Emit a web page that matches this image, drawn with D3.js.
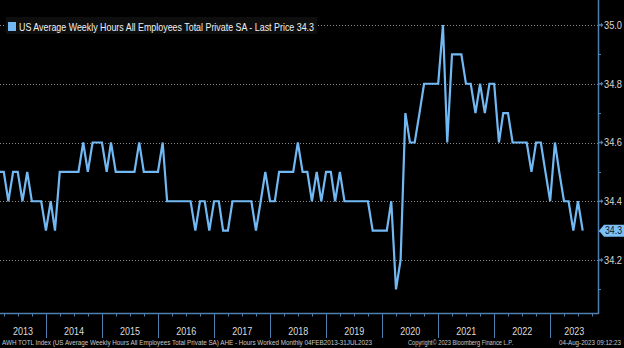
<!DOCTYPE html>
<html><head><meta charset="utf-8">
<script src="https://cdn.jsdelivr.net/npm/d3@7"></script>
<style>
html,body{margin:0;padding:0;background:#000;}
svg{display:block;}
</style></head>
<body>
<svg id="c" width="624" height="348"></svg>
<script>
// ---- data (monthly, month-end, Feb 2013 .. Jul 2023) ----
const startMonth = "2013-02";
const values = [
  34.5,34.5,34.4,34.5,34.5,34.4,34.5,34.4,34.4,34.4,34.3,
  34.4,34.3,34.5,34.5,34.5,34.5,34.5,34.6,34.5,34.6,34.6,34.6,
  34.5,34.6,34.5,34.5,34.5,34.5,34.5,34.6,34.5,34.5,34.5,34.5,
  34.6,34.4,34.4,34.4,34.4,34.4,34.4,34.3,34.4,34.4,34.3,34.4,
  34.4,34.3,34.3,34.4,34.4,34.4,34.4,34.4,34.3,34.4,34.5,34.4,
  34.4,34.5,34.5,34.5,34.5,34.6,34.5,34.5,34.4,34.5,34.4,34.5,
  34.5,34.4,34.5,34.4,34.4,34.4,34.4,34.4,34.4,34.3,34.3,34.3,
  34.3,34.4,34.1,34.2,34.7,34.6,34.6,34.7,34.8,34.8,34.8,34.8,
  35.0,34.6,34.9,34.9,34.9,34.8,34.8,34.7,34.8,34.7,34.8,34.8,
  34.6,34.7,34.7,34.6,34.6,34.6,34.6,34.5,34.6,34.6,34.5,34.4,
  34.6,34.5,34.4,34.4,34.3,34.4,34.3
];
const yMajorTicks = [34.2, 34.4, 34.6, 34.8, 35.0];
const yMinorTicks = [34.1, 34.3, 34.5, 34.7, 34.9];
const yearLabels = ["2013","2014","2015","2016","2017","2018","2019","2020","2021","2022","2023"];
const lastPrice = 34.3;
const legendText = "US Average Weekly Hours All Employees Total Private SA - Last Price 34.3";
const footerLeft = "AWH TOTL Index (US Average Weekly Hours All Employees Total Private SA) AHE - Hours Worked  Monthly 04FEB2013-31JUL2023";
const footerMid = "Copyright\u00A9 2023 Bloomberg Finance L.P.";
const footerRight = "04-Aug-2023 09:12:23";

// month-end dates
const parse = d3.timeParse("%Y-%m");
const first = parse(startMonth);
const dates = values.map((v,i) => d3.timeDay.offset(d3.timeMonth.offset(first, i+1), -1));
const data = values.map((v,i) => ({date: dates[i], value: v}));

const svg = d3.select("#c");
const W = 624, H = 348;
const plotRight = 598, plotBottom = 313;
const font = "'Liberation Sans', Arial, sans-serif";
const axisCol = "#4f7fae";
const lineCol = "#72b9f4";

svg.append("rect").attr("width", W).attr("height", H).attr("fill", "#000");

const x = d3.scaleTime()
  .domain([dates[0], dates[dates.length-1]])
  .range([-1, 582.7]);
const y = d3.scaleLinear().domain([34.2, 35.0]).range([260, 25]);

// clip
svg.append("clipPath").attr("id","clip").append("rect")
  .attr("x",0).attr("y",0).attr("width",plotRight).attr("height",plotBottom);

// gridlines
svg.append("g").selectAll("line").data(yMajorTicks).join("line")
  .attr("x1",0).attr("x2",plotRight)
  .attr("y1",d=>Math.round(y(d))+0.5).attr("y2",d=>Math.round(y(d))+0.5)
  .attr("stroke","#8a8a8a").attr("stroke-width",1).attr("stroke-dasharray","1,2");

// line
svg.append("path").datum(data)
  .attr("clip-path","url(#clip)")
  .attr("fill","none").attr("stroke",lineCol).attr("stroke-width",2.2)
  .attr("stroke-linejoin","miter")
  .attr("d", d3.line().x(d=>x(d.date)).y(d=>y(d.value)));

// legend
const lg = svg.append("g");
lg.append("rect").attr("x",6).attr("y",17).attr("width",311).attr("height",17).attr("fill","#0e0e0e");
lg.append("rect").attr("x",8).attr("y",22).attr("width",8).attr("height",9).attr("fill",lineCol);
lg.append("text").attr("x",19).attr("y",30.5).text(legendText)
  .attr("fill","#f0f0f0").attr("font-family",font).attr("font-size",11)
  .attr("textLength",295).attr("lengthAdjust","spacingAndGlyphs");

// right axis
const ra = svg.append("g");
ra.append("line").attr("x1",plotRight+0.5).attr("x2",plotRight+0.5).attr("y1",0).attr("y2",plotBottom+1)
  .attr("stroke",axisCol).attr("stroke-width",1.5);
ra.selectAll(".mj").data(yMajorTicks).join("path")
  .attr("d",d=>{const yy=y(d);return `M${plotRight},${yy-0.8}L${plotRight+3},${yy-0.8}L${plotRight+3},${yy-2.2}L${plotRight+5.5},${yy}L${plotRight+3},${yy+2.2}L${plotRight+3},${yy+0.8}L${plotRight},${yy+0.8}Z`;})
  .attr("fill",axisCol);
ra.selectAll(".mn").data(yMinorTicks).join("line")
  .attr("x1",plotRight).attr("x2",plotRight+3)
  .attr("y1",d=>Math.round(y(d))+0.5).attr("y2",d=>Math.round(y(d))+0.5)
  .attr("stroke",axisCol).attr("stroke-width",1);
ra.selectAll("text").data(yMajorTicks).join("text")
  .attr("x",604).attr("y",d=>y(d)+3.8)
  .text(d=>d3.format(".1f")(d))
  .attr("fill","#d8d8d8").attr("font-family",font).attr("font-size",10.5)
  .attr("textLength",18).attr("lengthAdjust","spacingAndGlyphs");

// last price tag
const ty = y(lastPrice);
svg.append("path")
  .attr("d",`M599,${ty}L604,${ty-6}L624,${ty-6}L624,${ty+6}L604,${ty+6}Z`)
  .attr("fill","#7cc0f7");
svg.append("text").attr("x",605).attr("y",ty+3.8).text(d3.format(".1f")(lastPrice))
  .attr("fill","#0a1a30").attr("font-family",font).attr("font-size",10.5)
  .attr("textLength",17).attr("lengthAdjust","spacingAndGlyphs");

// bottom axis
const ba = svg.append("g");
ba.append("line").attr("x1",0).attr("x2",plotRight+1).attr("y1",plotBottom+0.5).attr("y2",plotBottom+0.5)
  .attr("stroke",axisCol).attr("stroke-width",1.5);
const years = d3.timeYear.range(new Date(2014,0,1), new Date(2024,0,1));
ba.selectAll(".sep").data(years).join("line")
  .attr("x1",d=>Math.round(x(d))+0.5).attr("x2",d=>Math.round(x(d))+0.5)
  .attr("y1",plotBottom).attr("y2",338)
  .attr("stroke",axisCol).attr("stroke-width",1);
const quarters = d3.timeMonth.every(3).range(new Date(2013,3,1), new Date(2023,11,1))
  .filter(d=>d.getMonth()!==0 && x(d) < plotRight);
ba.selectAll(".q").data(quarters).join("line")
  .attr("x1",d=>Math.round(x(d))+0.5).attr("x2",d=>Math.round(x(d))+0.5)
  .attr("y1",plotBottom).attr("y2",plotBottom+3.5)
  .attr("stroke",axisCol).attr("stroke-width",1);
ba.selectAll("text").data(yearLabels).join("text")
  .attr("x",(d)=>{
    const yr=+d;
    const a=Math.max(0,x(new Date(yr,0,1)));
    const b=Math.min(plotRight,x(new Date(yr+1,0,1)));
    return (a+b)/2;})
  .attr("y",335).attr("text-anchor","middle").text(d=>d)
  .attr("fill","#dcdcdc").attr("font-family",font).attr("font-size",10.5)
  .attr("textLength",20).attr("lengthAdjust","spacingAndGlyphs");

// footer
const ft = svg.append("g").attr("fill","#c8c8c8").attr("font-family",font).attr("font-size",7);
ft.append("text").attr("x",2).attr("y",345).text(footerLeft).attr("textLength",370).attr("lengthAdjust","spacingAndGlyphs");
ft.append("text").attr("x",408).attr("y",345).text(footerMid).attr("textLength",105).attr("lengthAdjust","spacingAndGlyphs");
ft.append("text").attr("x",621).attr("y",345).attr("text-anchor","end").attr("font-size",6.4)
  .text(footerRight).attr("textLength",62).attr("lengthAdjust","spacingAndGlyphs");
</script>
</body></html>
